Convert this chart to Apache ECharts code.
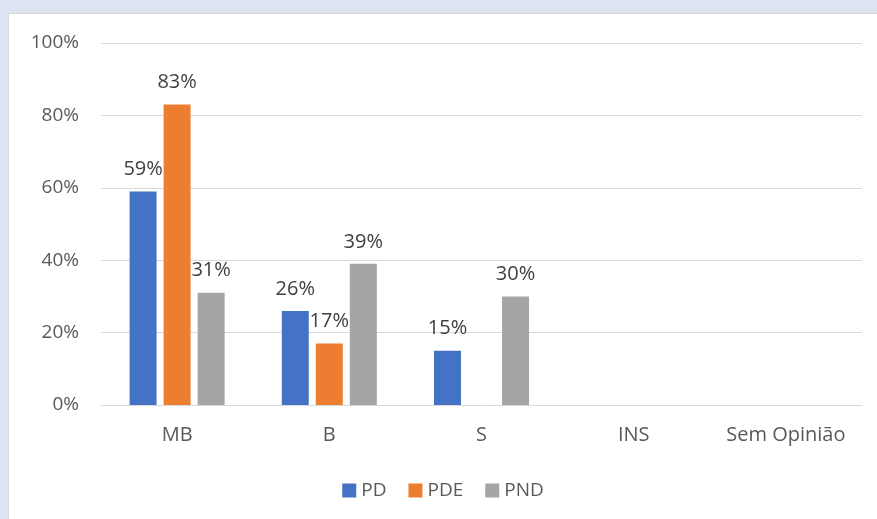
<!DOCTYPE html>
<html lang="pt">
<head>
<meta charset="UTF-8">
<title>Avaliação</title>
<style>
    html, body { margin: 0; padding: 0; }
    body { width: 877px; height: 519px; background: #dce3f1; position: relative; overflow: hidden; }
    #main {
        position: absolute; left: 8px; top: 13px;
        width: 869px; height: 506px;
        background: #fff;
        box-sizing: border-box;
        border-left: 1px solid #d9d9d9; border-top: 1px solid #d9d9d9;
    }
</style>
</head>
<body>
<div id="main"></div>
<script src="https://cdn.jsdelivr.net/npm/echarts@6/dist/echarts.min.js"></script>
<script>
    var categories = ["MB", "B", "S", "INS", "Sem Opinião"];
    var pd = [59, 26, 15, null, null];
    var pde = [83, 17, null, null, null];
    var pnd = [31, 39, 30, null, null];
    var yTicks = [0, 20, 40, 60, 80, 100];

    var font = "'Open Sans', 'Liberation Sans', sans-serif";
    var txt = "#595959";

    function bar(name, data, color) {
        return {
            name: name,
            type: "bar",
            data: data,
            barWidth: 27,
            barGap: "26%",
            itemStyle: { color: color },
            label: {
                show: true,
                position: "top",
                distance: 12,
                formatter: "{c}%",
                color: "#404040",
                fontSize: 20,
                fontFamily: font
            }
        };
    }

    var myChart = echarts.init(document.getElementById("main"));
    var option = {
        animation: false,
        grid: { left: 92, right: 15, top: 29, bottom: 114 },
        legend: {
            bottom: 14,
            left: "center",
            itemWidth: 14,
            itemHeight: 14,
            itemGap: 22,
            icon: "rect",
            textStyle: { color: txt, fontSize: 19, fontFamily: font }
        },
        xAxis: {
            type: "category",
            data: categories,
            axisTick: { show: false },
            axisLine: { lineStyle: { color: "#d9d9d9", width: 1 } },
            axisLabel: { color: txt, fontSize: 20, fontFamily: font, margin: 20, interval: 0, hideOverlap: false }
        },
        yAxis: {
            type: "value",
            min: yTicks[0],
            max: yTicks[yTicks.length - 1],
            interval: 20,
            axisLine: { show: false },
            axisTick: { show: false },
            splitLine: { lineStyle: { color: "#d9d9d9" } },
            axisLabel: { color: txt, fontSize: 19, fontFamily: font, margin: 22, formatter: "{value}%" }
        },
        series: [
            bar("PD", pd, "#4472c4"),
            bar("PDE", pde, "#ed7d31"),
            bar("PND", pnd, "#a5a5a5")
        ]
    };
    myChart.setOption(option);
</script>
</body>
</html>
